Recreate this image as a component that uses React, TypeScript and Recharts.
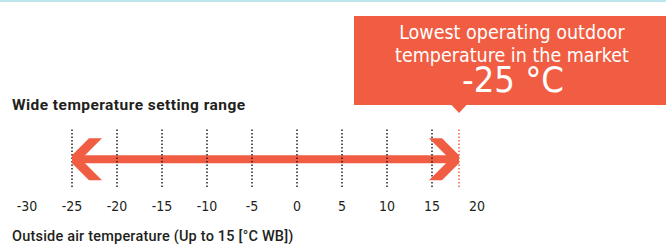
import React from 'react';
import { ComposedChart, Line, XAxis, YAxis, ReferenceLine } from 'recharts';

// temperature scale (°C)
const tickValues = [-30, -25, -20, -15, -10, -5, 0, 5, 10, 15, 20];
const dottedLines = [-25, -20, -15, -10, -5, 0, 5, 10, 15];
const rangeMin = -25;
const rangeMax = 18;
const lowestOperating = 18;
const arrowLevel = 0.47;

const calloutLines = ['Lowest operating outdoor', 'temperature in the market'];
const calloutValue = '-25 °C';
const title = 'Wide temperature setting range';
const footer = 'Outside air temperature (Up to 15 [°C WB])';

const arrowData = [
  { x: rangeMin, y: arrowLevel },
  { x: rangeMax, y: arrowLevel },
];

const RED = '#f15d42';
const DARK = '#231f20';

const Chevron = (props: any) => {
  const { cx, cy, index } = props;
  if (cx == null || cy == null) return null;
  const d = index === 0 ? 1 : -1;
  const pts = [
    [0, -4], [17 * d, -21], [30 * d, -21], [12 * d, -3],
    [12 * d, 3], [30 * d, 21], [17 * d, 21], [0, 4],
  ]
    .map(([px, py]) => `${cx + px},${cy + py}`)
    .join(' ');
  return <polygon key={`chev-${index}`} points={pts} fill={RED} />;
};

const Callout = (props: any) => {
  const vb = props.viewBox || {};
  const lx = vb.x;
  const ly = vb.y;
  if (lx == null || ly == null) return null;
  const top = ly - 112;
  const bottom = ly - 23;
  const cx = lx + 53;
  const font = "'DejaVu Sans Condensed', 'Roboto', sans-serif";
  return (
    <g>
      <rect x={lx - 105} y={top} width={330} height={bottom - top} fill={RED} />
      <polygon points={`${lx - 8},${bottom - 0.5} ${lx + 8},${bottom - 0.5} ${lx},${bottom + 8}`} fill={RED} />
      <text x={cx} y={top + 23} textAnchor="middle" fill="#fff" fontSize={19.5} fontFamily={font}>
        {calloutLines[0]}
      </text>
      <text x={cx} y={top + 46} textAnchor="middle" fill="#fff" fontSize={19.5} fontFamily={font}>
        {calloutLines[1]}
      </text>
      <text x={cx + 1} y={top + 76} textAnchor="middle" fill="#fff" fontSize={36} fontFamily={font}>
        {calloutValue}
      </text>
    </g>
  );
};

const TempTick = (props: any) => {
  const { x, y, payload } = props;
  return (
    <text x={x} y={y + 16} textAnchor="middle" fill={DARK} fontSize={14}
      fontFamily="'Liberation Sans Narrow', 'DejaVu Sans Condensed', sans-serif">
      {payload.value}
    </text>
  );
};

export default function App() {
  return (
    <div style={{ position: 'absolute', top: 0, left: 0, width: 666, height: 245, background: '#fff', overflow: 'hidden' }}>
      <div style={{ position: 'absolute', top: 0, left: 0, width: 666, height: 2, background: '#bde6ef' }} />
      <ComposedChart
        width={666}
        height={245}
        data={arrowData}
        margin={{ top: 128, right: 189, left: 27, bottom: 28 }}
      >
        <XAxis
          type="number"
          dataKey="x"
          domain={[-30, 20]}
          ticks={tickValues}
          axisLine={false}
          tickLine={false}
          height={30}
          interval={0}
          tick={<TempTick />}
        />
        <YAxis type="number" domain={[0, 1]} hide />
        <Line
          dataKey="y"
          stroke={RED}
          strokeWidth={8}
          dot={(p: any) => <Chevron {...p} />}
          activeDot={false}
          isAnimationActive={false}
        />
        {dottedLines.map((v) => (
          <ReferenceLine key={v} x={v} stroke={DARK} strokeWidth={1.5} strokeDasharray="1.5 2" />
        ))}
        <ReferenceLine
          x={lowestOperating}
          stroke={RED}
          strokeWidth={1.5}
          strokeDasharray="1.5 2"
          label={(p: any) => <Callout {...p} />}
        />
      </ComposedChart>
      <div style={{ position: 'absolute', left: 12, top: 96, fontFamily: "'Roboto', sans-serif", fontWeight: 700, fontSize: 15.5, letterSpacing: 0.45, color: DARK, whiteSpace: 'nowrap', lineHeight: '18px' }}>
        {title}
      </div>
      <div style={{ position: 'absolute', left: 12, top: 228, fontFamily: "'Roboto', sans-serif", fontWeight: 500, fontSize: 14.5, letterSpacing: 0.2, color: DARK, whiteSpace: 'nowrap', lineHeight: '17px' }}>
        {footer}
      </div>
    </div>
  );
}
